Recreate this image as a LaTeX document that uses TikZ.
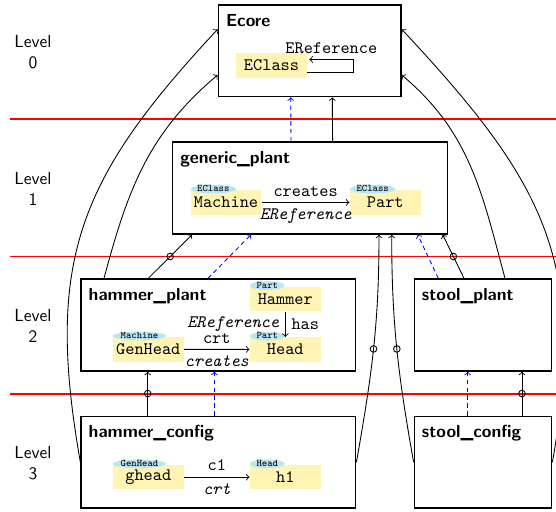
\documentclass[tikz,border=0pt]{standalone}
\usepackage{tikz}
\usetikzlibrary{arrows,calc,shapes.geometric}
\definecolor{clsyellow}{RGB}{255,244,180}
\definecolor{stcyan}{RGB}{185,230,245}
\tikzset{
  lvltext/.style={font=\sffamily, align=center},
  modelbox/.style={draw, line width=0.8pt, minimum height=52.6pt},
  mtitle/.style={font=\sffamily\bfseries, anchor=north west, inner sep=2pt},
  cls/.style={fill=clsyellow, font=\ttfamily, minimum width=40.6pt, minimum height=14pt, inner sep=1pt},
  stereo/.style={ellipse, fill=stcyan, font=\fontsize{5.8}{6}\selectfont\ttfamily, inner sep=0pt,
    minimum width=20pt, minimum height=5pt, text height=3pt, text depth=0pt, anchor=west},
  conf/.style={->, line width=0.5pt},
  inst/.style={->, blue, line width=0.5pt, dash pattern=on 2.5pt off 2pt},
  ring/.style={circle, draw, line width=0.5pt, inner sep=0pt, minimum size=3.8pt},
  redsep/.style={red, line width=0.75pt}
}
\begin{document}
\begin{tikzpicture}[x=0.572pt, y=-0.572pt]
\useasboundingbox (0,0) rectangle (556,512);
% level separators
\draw[redsep] (10,119) -- (556,119);
\draw[redsep] (10,256.5) -- (556,256.5);
\draw[redsep] (10,394) -- (556,394);
\node[lvltext] (lvl0) at (33,52) {Level\\0};
\node[lvltext] (lvl1) at (33,189) {Level\\1};
\node[lvltext] (lvl2) at (33,326) {Level\\2};
\node[lvltext] (lvl3) at (33,463.5) {Level\\3};
% models
\node[modelbox, minimum width=104.5pt, minimum height=52.4pt] (ecore) at (309.7,50.8) {};
\node[modelbox, minimum width=157.1pt] (gp) at (310,188) {};
\node[modelbox, minimum width=157.1pt] (hp) at (218.4,325) {};
\node[modelbox, minimum width=78.6pt] (sp) at (483,325) {};
\node[modelbox, minimum width=157.1pt] (hc) at (218.4,462.2) {};
\node[modelbox, minimum width=78.6pt] (sc) at (483,462.2) {};
\node[mtitle] (ecoreT) at ($(ecore.north west)+(4.5,6)$) {Ecore};
\node[mtitle] (gpT) at ($(gp.north west)+(4.5,6)$) {generic\_plant};
\node[mtitle] (hpT) at ($(hp.north west)+(4.5,6)$) {hammer\_plant};
\node[mtitle] (spT) at ($(sp.north west)+(4.5,6)$) {stool\_plant};
\node[mtitle] (hcT) at ($(hc.north west)+(4.5,6)$) {hammer\_config};
\node[mtitle] (scT) at ($(sc.north west)+(4.5,6)$) {stool\_config};
% classes and objects
\node[cls] (eclass) at (271.5,65.5) {EClass};
\node[cls] (machine) at (226,202.5) {Machine};
\node[cls] (part) at (385.3,202.5) {Part};
\node[cls] (hammer) at (285.3,299) {Hammer};
\node[cls] (head) at (285.3,349.5) {Head};
\node[cls] (genhead) at (148.3,349.3) {GenHead};
\node[cls] (ghead) at (148.3,477.2) {ghead};
\node[cls] (hone) at (285.3,477.2) {h1};
\node[stereo] (machineS) at ($(machine.north west)+(0,-0.8)$) {EClass};
\node[stereo] (partS) at ($(part.north west)+(0,-0.8)$) {EClass};
\node[stereo] (hammerS) at ($(hammer.north west)+(0,-0.8)$) {Part};
\node[stereo] (headS) at ($(head.north west)+(0,-0.8)$) {Part};
\node[stereo] (genheadS) at ($(genhead.north west)+(0,-0.8)$) {Machine};
\node[stereo] (gheadS) at ($(ghead.north west)+(0,-0.8)$) {GenHead};
\node[stereo] (honeS) at ($(hone.north west)+(0,-0.8)$) {Head};
% references
\draw[conf] ($(eclass.east)+(0,7.3)$) -- ++(46,0) |- node[pos=0.75, above, font=\ttfamily] {EReference} ($(eclass.east)+(2,-6)$);
\draw[conf] (machine) -- node[above, font=\ttfamily] {creates} node[below, font=\ttfamily\itshape] {EReference} (part);
\draw[conf] (hammer) -- node[right, font=\ttfamily] {has} node[left, font=\ttfamily\itshape] {EReference} (head);
\draw[conf] (genhead) -- node[above, font=\ttfamily] {crt} node[below, font=\ttfamily\itshape] {creates} (head);
\draw[conf] (ghead) -- node[above, font=\ttfamily] {c1} node[below, font=\ttfamily\itshape] {crt} (hone);
% conformance between models
\draw[conf] ($(gp.north)+(22.6,0)$) -- ($(ecore.south)+(22.6,0)$);
\draw[conf] ($(hp.north)+(-70.1,0)$) -- node[ring, midway] {} ($(gp.south)+(-118,0)$);
\draw[conf] ($(sp.north)+(-19,0)$) -- node[ring, midway] {} ($(gp.south)+(132.7,0)$);
\draw[conf] ($(hc.north)+(-70.7,0)$) -- node[ring, midway] {} ($(hp.south)+(-70.7,0)$);
\draw[conf] ($(sc.north)+(39,0)$) -- node[ring, midway] {} ($(sp.south)+(39,0)$);
\draw[conf] (hc.east) to[out=80, in=-90] node[ring, midway] {} ($(gp.south)+(69,0)$);
\draw[conf] (sc.west) to[out=100, in=-90] node[ring, midway] {} ($(gp.south)+(81.7,0)$);
\draw[conf] (hc.west) to[out=100, in=-133, looseness=1.15] ($(ecore.west)+(0,-21.5)$);
\draw[conf] ($(hp.north)+(-114.4,0)$) to[out=75, in=-140] ($(ecore.west)+(0,24.2)$);
\draw[conf] (sc.east) to[out=80, in=-47, looseness=1.15] ($(ecore.east)+(0,-21.5)$);
\draw[conf] ($(sp.north)+(22,0)$) to[out=105, in=-40] ($(ecore.east)+(0,24.2)$);
% instantiation
\draw[inst] ($(gp.north)+(-19,0)$) -- ($(ecore.south)+(-19,0)$);
\draw[inst] ($(hp.north)+(-10.4,0)$) -- ($(gp.south)+(-59,0)$);
\draw[inst] ($(sp.north)+(-44.7,0)$) -- ($(gp.south)+(107.7,0)$);
\draw[inst] ($(hc.north)+(-4.1,0)$) -- ($(hp.south)+(-4.1,0)$);
\draw[inst] ($(sc.north)+(-15.3,0)$) -- ($(sp.south)+(-15.3,0)$);
\end{tikzpicture}
\end{document}
